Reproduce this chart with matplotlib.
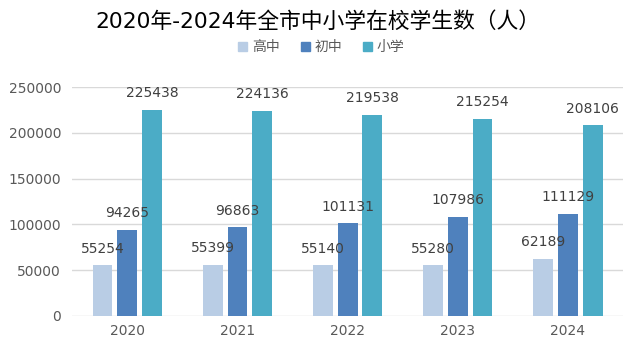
import numpy as np
import matplotlib.pyplot as plt
from matplotlib.patches import Patch

plt.rcParams['font.family'] = ['DejaVu Sans', 'Noto Sans CJK SC']

years = ['2020', '2021', '2022', '2023', '2024']
series_names = ['高中', '初中', '小学']
high = [55254, 55399, 55140, 55280, 62189]
middle = [94265, 96863, 101131, 107986, 111129]
primary = [225438, 224136, 219538, 215254, 208106]
colors = ['#B9CDE5', '#4F81BD', '#4BACC6']

fig = plt.figure(figsize=(6.39, 3.51), dpi=100)
ax = fig.add_axes([0.113, 0.1, 0.862, 0.652])

x = np.arange(len(years))
w = 0.18
step = 0.225
for k, vals in enumerate([high, middle, primary]):
    xs = x + (k - 1) * step
    ax.bar(xs, vals, width=w, color=colors[k], zorder=3)
    for xi, v in zip(xs, vals):
        ax.annotate(str(v), (xi, v), xytext=(0, 7), textcoords='offset points',
                    ha='center', va='bottom', fontsize=10, color='#404040',
                    zorder=10)

ax.set_xlim(-0.5, 4.5)
ax.set_ylim(0, 250000)
ax.set_yticks(np.arange(0, 250001, 50000))
ax.set_xticks(x)
ax.set_xticklabels(years)
ax.grid(axis='y', color='#D9D9D9', linewidth=1, zorder=0)
for s in ax.spines.values():
    s.set_visible(False)
ax.tick_params(length=0, labelsize=10, labelcolor='#595959')
ax.tick_params(axis='y', pad=8)
ax.tick_params(axis='x', pad=6)

fig.text(0.498, 0.94, '2020年-2024年全市中小学在校学生数（人）', ha='center', va='center',
         fontsize=15.7, family=['DejaVu Sans', 'Noto Sans CJK SC'], color='black')

handles = [Patch(color=c) for c in colors]
leg = fig.legend(handles, series_names, loc='center', bbox_to_anchor=(0.503, 0.866), ncol=3,
                 frameon=False, handlelength=0.65, handleheight=0.65,
                 handletextpad=0.35, columnspacing=1.5,
                 prop={'family': ['Noto Sans CJK SC'], 'size': 10})
for t in leg.get_texts():
    t.set_color('#595959')

fig.savefig('out.png', dpi=100)
